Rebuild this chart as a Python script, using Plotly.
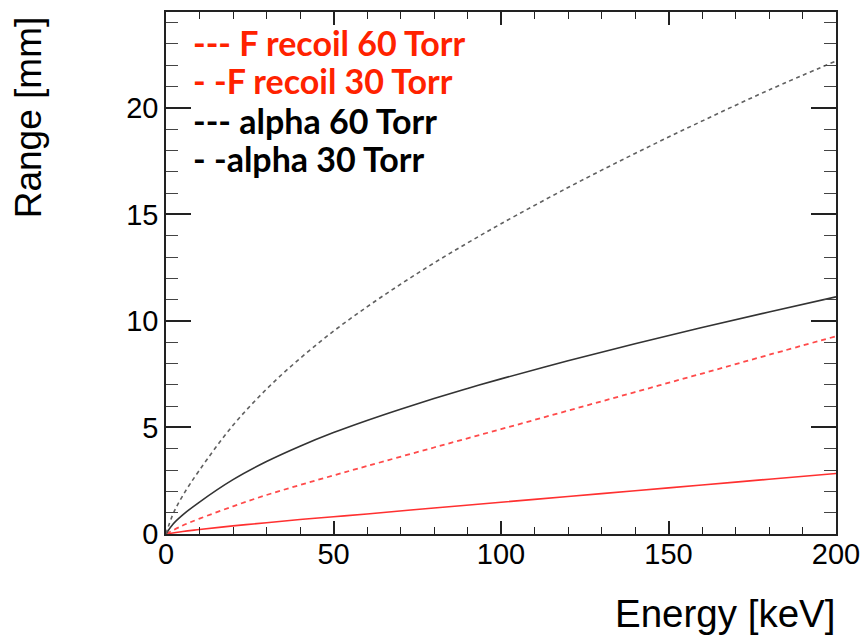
import plotly.graph_objects as go

# Energy grid [keV]
energy_alpha = [0, 2, 5, 10, 20, 30, 40, 50, 60, 70, 80, 90, 100, 120, 140, 160, 180, 200]
alpha_60 = [0, 0.45, 0.9, 1.5, 2.55, 3.4, 4.12, 4.76, 5.33, 5.86, 6.36, 6.83, 7.28, 8.13, 8.93, 9.69, 10.42, 11.13]
alpha_30 = [0, 0.9, 1.8, 3.0, 5.1, 6.8, 8.24, 9.52, 10.66, 11.72, 12.72, 13.66, 14.56, 16.26, 17.86, 19.38, 20.84, 22.2]

energy_f = [0, 5, 10, 20, 30, 40, 50, 60, 80, 100, 120, 140, 160, 180, 200]
f_30 = [0, 0.4, 0.72, 1.3, 1.83, 2.3, 2.75, 3.19, 4.06, 4.92, 5.79, 6.66, 7.53, 8.41, 9.28]
f_60 = [0, 0.12, 0.21, 0.38, 0.53, 0.68, 0.81, 0.94, 1.22, 1.49, 1.76, 2.03, 2.3, 2.57, 2.84]

legend_labels = ["--- F recoil 60 Torr", "- -F recoil 30 Torr", "--- alpha 60 Torr", "- -alpha 30 Torr"]
legend_colors = ["#ff2200", "#ff2200", "#000000", "#000000"]

x_title = "Energy [keV]"
y_title = "Range [mm]"

fig = go.Figure()
fig.add_trace(go.Scatter(x=energy_f, y=f_60, mode="lines", line=dict(color="#ff3030", width=1.6, shape="spline")))
fig.add_trace(go.Scatter(x=energy_f, y=f_30, mode="lines", line=dict(color="#ff4a4a", width=1.8, dash="5px,4px", shape="spline")))
fig.add_trace(go.Scatter(x=energy_alpha, y=alpha_60, mode="lines", line=dict(color="#333333", width=1.6, shape="spline")))
fig.add_trace(go.Scatter(x=energy_alpha, y=alpha_30, mode="lines", line=dict(color="#606060", width=1.6, dash="4px,3.5px", shape="spline")))

ys = [0.942, 0.869, 0.793, 0.720]
for lab, col, yy in zip(legend_labels, legend_colors, ys):
    fig.add_annotation(text="<b>" + lab + "</b>", x=0.038, y=yy, xref="paper", yref="paper",
                       xanchor="left", yanchor="middle", showarrow=False,
                       font=dict(family="Lato", size=34, color=col))

fig.add_annotation(text=y_title, textangle=-90, x=-0.205, y=0.995, xref="paper", yref="paper",
                   xanchor="center", yanchor="top", showarrow=False,
                   font=dict(family="Liberation Sans", size=37, color="#000"))
fig.add_annotation(text=x_title, x=1.001, y=-0.152, xref="paper", yref="paper",
                   xanchor="right", yanchor="middle", showarrow=False,
                   font=dict(family="Liberation Sans", size=38.5, color="#000"))

axis_common = dict(showgrid=False, zeroline=False, showline=True, linecolor="#222", linewidth=1.5,
                   mirror="ticks", ticks="inside", tickcolor="#222", tickwidth=1.5, automargin=False,
                   tickfont=dict(family="Liberation Sans", size=29, color="#000"))
fig.update_xaxes(range=[0, 200], dtick=50, ticklen=13, ticklabelstandoff=-7,
                 minor=dict(ticks="inside", dtick=10, ticklen=7, tickcolor="#222", tickwidth=1.2),
                 **axis_common)
fig.update_yaxes(range=[0, 24.5], dtick=5, ticklen=25,
                 minor=dict(ticks="inside", dtick=1, ticklen=12, tickcolor="#444", tickwidth=1.2),
                 **axis_common)
fig.update_layout(width=862, height=636, margin=dict(l=165.5, r=26, t=11.7, b=102),
                  plot_bgcolor="white", paper_bgcolor="white", showlegend=False)
fig.write_html("out.html")
